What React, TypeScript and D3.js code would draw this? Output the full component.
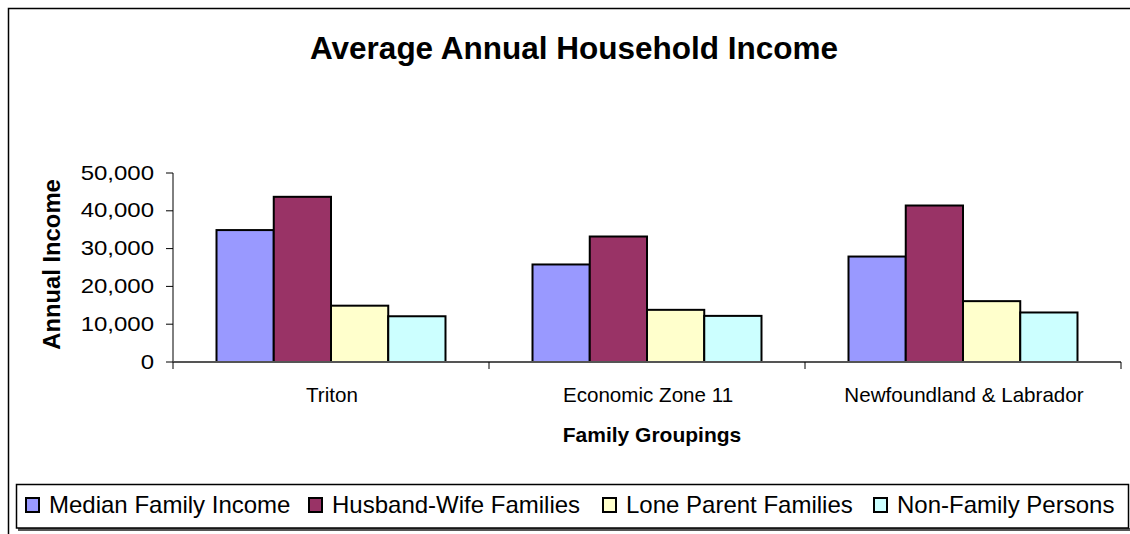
import React from "react";
import * as d3 from "d3";

const categories = ["Triton", "Economic Zone 11", "Newfoundland & Labrador"];
const seriesNames = ["Median Family Income", "Husband-Wife Families", "Lone Parent Families", "Non-Family Persons"];
const medianFamily = [34900, 25800, 27900];
const husbandWife = [43700, 33200, 41400];
const loneParent = [14900, 13800, 16100];
const nonFamily = [12100, 12200, 13100];
const yTicks = [0, 10000, 20000, 30000, 40000, 50000];
const seriesColors = ["#9999FF", "#993366", "#FFFFCC", "#CCFFFF"];

const W = 1130;
const H = 534;
const plotLeft = 173;
const plotRight = 1121;
const plotTop = 173;
const plotBottom = 362;
const legendX = [25, 308, 602, 873];

export default function App() {
  const series = [medianFamily, husbandWife, loneParent, nonFamily];
  const x0 = d3.scaleBand<string>().domain(categories).range([plotLeft, plotRight]).padding(0);
  const x1 = d3
    .scaleBand<number>()
    .domain(d3.range(seriesNames.length))
    .range([0, x0.bandwidth()])
    .paddingInner(0)
    .paddingOuter(0.76);
  const y = d3.scaleLinear().domain([0, 50000]).range([plotBottom, plotTop]);
  const fmt = d3.format(",");
  const font = "'Liberation Sans', Arial, sans-serif";

  return (
    <svg
      width={W}
      height={H}
      style={{ position: "absolute", left: 0, top: 0, background: "#fff" }}
      fontFamily={font}
    >
      {/* outer frame */}
      <rect x={8.5} y={8.5} width={W + 20} height={H + 20} fill="#fff" stroke="#000" strokeWidth={1.5} />

      {/* title */}
      <text x={574} y={59} textAnchor="middle" fontSize={31.5} fontWeight="bold" fill="#000">
        Average Annual Household Income
      </text>

      {/* bars */}
      {categories.map((c, ci) => (
        <g key={c} transform={`translate(${x0(c)},0)`}>
          {series.map((vals, si) => (
            <rect
              key={si}
              x={x1(si)}
              y={y(vals[ci])}
              width={x1.bandwidth()}
              height={plotBottom - y(vals[ci])}
              fill={seriesColors[si]}
              stroke="#000"
              strokeWidth={2}
            />
          ))}
        </g>
      ))}

      {/* y axis */}
      <line x1={plotLeft} x2={plotLeft} y1={y(50000)} y2={plotBottom} stroke="#000" strokeWidth={1} />
      {yTicks.map((t) => (
        <g key={t}>
          <line x1={plotLeft - 7} x2={plotLeft} y1={y(t)} y2={y(t)} stroke="#000" strokeWidth={1} />
          <text
            transform={`translate(154,${y(t) + 6.5}) scale(1.2,1)`}
            textAnchor="end"
            fontSize={20}
            fill="#000"
          >
            {fmt(t)}
          </text>
        </g>
      ))}

      {/* x axis */}
      <line x1={plotLeft} x2={plotRight} y1={plotBottom} y2={plotBottom} stroke="#555" strokeWidth={2} />
      {[...categories.map((c) => x0(c) as number), plotRight].map((px, i) => (
        <line key={i} x1={px} x2={px} y1={plotBottom} y2={plotBottom + 7} stroke="#000" strokeWidth={1} />
      ))}
      {categories.map((c) => (
        <text
          key={c}
          x={(x0(c) as number) + x0.bandwidth() / 2 + 1}
          y={401.5}
          textAnchor="middle"
          fontSize={20.6}
          fill="#000"
        >
          {c}
        </text>
      ))}

      {/* axis titles */}
      <text x={652} y={441.5} textAnchor="middle" fontSize={21} fontWeight="bold" fill="#000">
        Family Groupings
      </text>
      <text
        transform={`translate(59.5,264.5) rotate(-90)`}
        textAnchor="middle"
        fontSize={23.8}
        fontWeight="bold"
        fill="#000"
      >
        Annual Income
      </text>

      {/* legend */}
      <line x1={18} x2={1130} y1={529.5} y2={529.5} stroke="#555" strokeWidth={3} />
      <rect x={16.5} y={484.5} width={1112} height={43.5} fill="#fff" stroke="#000" strokeWidth={1.5} />
      {seriesNames.map((name, i) => (
        <g key={name}>
          <rect x={legendX[i] + 1} y={498} width={13} height={14} fill={seriesColors[i]} stroke="#000" strokeWidth={2} />
          <text x={legendX[i] + 24} y={513.3} fontSize={24} fill="#000">
            {name}
          </text>
        </g>
      ))}
    </svg>
  );
}
